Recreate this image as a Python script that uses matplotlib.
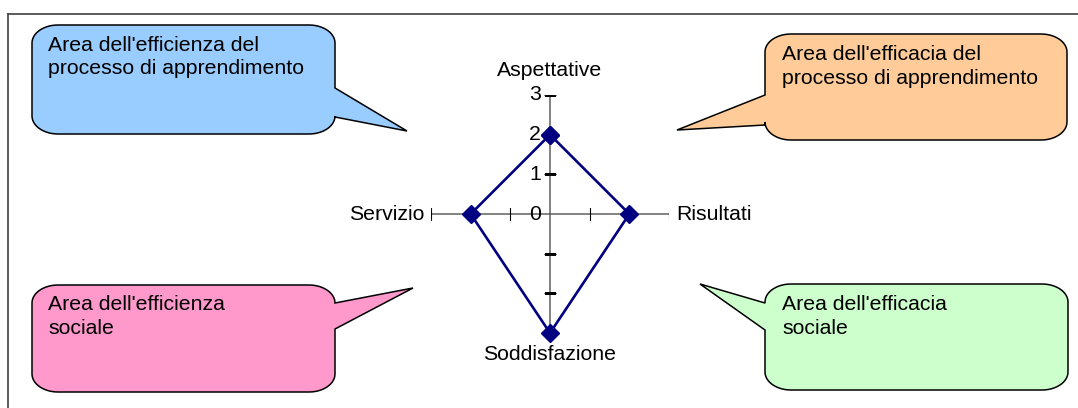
import numpy as np
import matplotlib
matplotlib.use('Agg')
import matplotlib.pyplot as plt
from matplotlib.patches import Polygon

plt.rcParams['font.family'] = 'Liberation Sans'
plt.rcParams['font.size'] = 15.3

# dati del grafico radar
categorie = ['Aspettative', 'Risultati', 'Soddisfazione', 'Servizio']
valori = [2, 2, 3, 2]
r_ticks = [0, 1, 2, 3]

# testi dei fumetti
testi = ["Area dell'efficienza del\nprocesso di apprendimento",
         "Area dell'efficacia del\nprocesso di apprendimento",
         "Area dell'efficienza\nsociale",
         "Area dell'efficacia\nsociale"]
colori = ['#99CCFF', '#FFCC99', '#FF99CC', '#CCFFCC']

W, H = 1078, 408
fig = plt.figure(figsize=(W / 100, H / 100), dpi=100)

# sfondo in pixel per cornice e fumetti
bg = fig.add_axes([0, 0, 1, 1])
bg.set_xlim(0, W)
bg.set_ylim(H, 0)
bg.axis('off')
bg.plot([8, W], [14, 14], color='#404040', lw=1.2)
bg.plot([8, 8], [14, H], color='#404040', lw=1.2)


def fumetto(ax, x0, y0, x1, y1, lato, ta, tb, punta, colore):
    rx, ry = 26, 18
    pts = []

    def arco(cx, cy, a0, a1):
        t = np.radians(np.linspace(a0, a1, 14))
        return list(zip(cx + rx * np.cos(t), cy + ry * np.sin(t)))

    pts += arco(x1 - rx, y0 + ry, -90, 0)
    if lato == 'right':
        pts += [(x1, ta), punta, (x1, tb)]
    pts += arco(x1 - rx, y1 - ry, 0, 90)
    pts += arco(x0 + rx, y1 - ry, 90, 180)
    if lato == 'left':
        pts += [(x0, tb), punta, (x0, ta)]
    pts += arco(x0 + rx, y0 + ry, 180, 270)
    ax.add_patch(Polygon(pts, closed=True, facecolor=colore,
                         edgecolor='black', lw=1.1, joinstyle='miter'))


fumetto(bg, 32, 25, 335, 134, 'right', 88, 117, (407, 131), colori[0])
fumetto(bg, 765, 34, 1067, 140, 'left', 95, 125, (677, 130), colori[1])
fumetto(bg, 32, 285, 335, 392, 'right', 303, 329, (413, 288), colori[2])
fumetto(bg, 765, 284, 1068, 390, 'left', 303, 330, (700, 284), colori[3])

bg.text(48, 36, testi[0], ha='left', va='top', linespacing=1.3)
bg.text(782, 45, testi[1], ha='left', va='top', linespacing=1.3)
bg.text(48, 295, testi[2], ha='left', va='top', linespacing=1.3)
bg.text(782, 295, testi[3], ha='left', va='top', linespacing=1.3)

# grafico radar
cx, cy, R = 550, 214, 119
ax = fig.add_axes([(cx - R) / W, (H - cy - R) / H, 2 * R / W, 2 * R / H],
                  projection='polar')
ax.set_theta_zero_location('N')
ax.set_theta_direction(-1)
ax.set_ylim(0, max(r_ticks))
ax.set_xticks([])
ax.set_yticks([])
ax.grid(False)
ax.spines['polar'].set_visible(False)
ax.patch.set_alpha(0)

theta = np.linspace(0, 2 * np.pi, len(categorie), endpoint=False)

for i, th in enumerate(theta):
    ax.plot([th, th], [0, max(r_ticks)], color='#606060', lw=1.1)
    m = '_' if i % 2 == 0 else '|'
    rr = r_ticks[1:]
    ax.plot([th] * len(rr), rr, linestyle='none', marker=m,
            markersize=8.5, markeredgewidth=0.8, color='black')

for r in r_ticks:
    ax.annotate(str(r), xy=(0, r), xytext=(-9, 0), textcoords='offset pixels',
                ha='right', va='center')

offs = [((0, 15), 'center', 'bottom'), ((7, 0), 'left', 'center'),
        ((0, -12), 'center', 'top'), ((-7, 0), 'right', 'center')]
for th, nome, (o, ha, va) in zip(theta, categorie, offs):
    ax.annotate(nome, xy=(th, max(r_ticks)), xytext=o,
                textcoords='offset pixels', ha=ha, va=va)

th_c = np.append(theta, theta[0])
v_c = valori + [valori[0]]
ax.plot(th_c, v_c, color='#000080', lw=1.9, marker='D', markersize=9,
        clip_on=False)

fig.savefig('out.png', dpi=100)
